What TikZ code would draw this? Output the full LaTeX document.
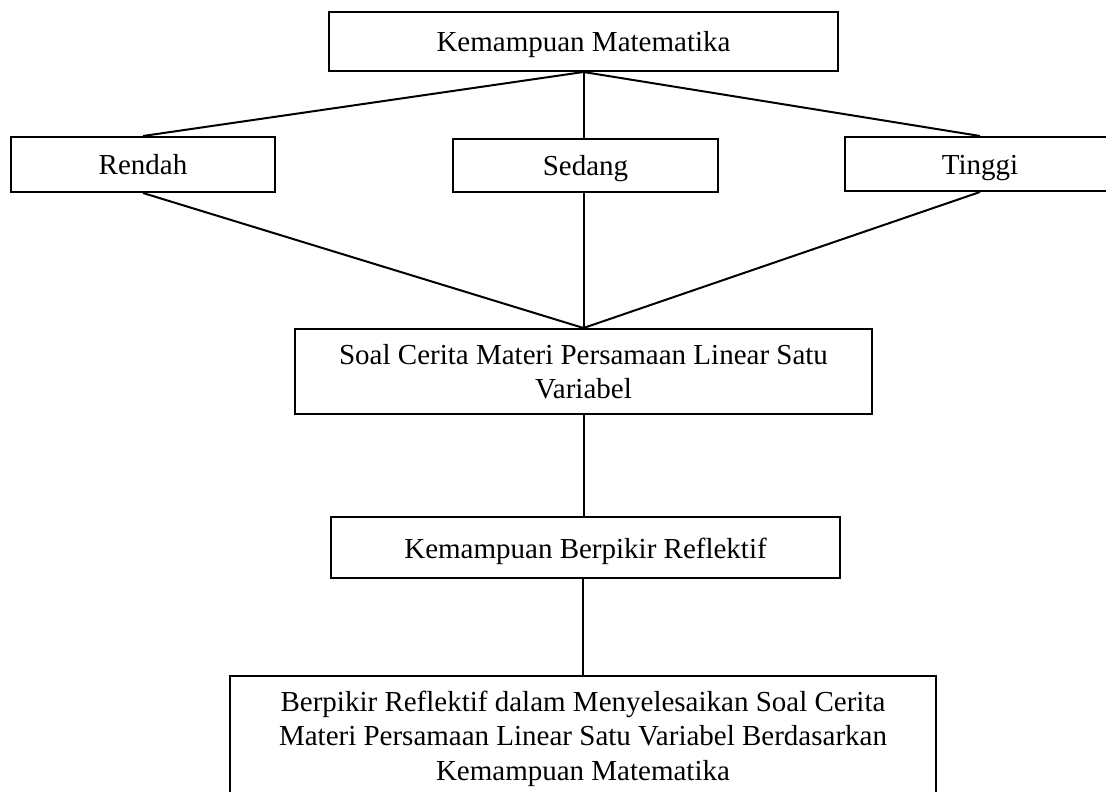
\documentclass[tikz,border=0pt]{standalone}
\usepackage{fontspec}
\setmainfont{Liberation Serif}
\tikzset{kotak/.style={draw, line width=1pt, inner sep=0pt, align=center, font=\fontsize{14.5}{17.2}\selectfont},
  satu/.style={text height=12.5pt, text depth=2pt},
  garis/.style={line width=1pt}}

\begin{document}
\begin{tikzpicture}[x=0.5pt,y=-0.5pt]
                 \useasboundingbox (0,0) rectangle (1106,791);
                 \clip (0,0) rectangle (1106,791);

                 \node[kotak, satu, minimum width=254.5pt, minimum height=29.5pt] (km) at (583.5,41.5) {Kemampuan Matematika};

                 \node[kotak, satu, minimum width=132pt, minimum height=27.5pt] (rendah) at (143,164.5) {Rendah};
                 \node[kotak, satu, minimum width=132.5pt, minimum height=26.5pt] (sedang) at (585.5,165.5) {Sedang};
                 \node[kotak, satu, minimum width=135pt, minimum height=27pt] (tinggi) at (980,164) {Tinggi};

                 \node[kotak, minimum width=288.5pt, minimum height=42.5pt] (soal) at (583.5,371.5) {Soal Cerita Materi Persamaan Linear Satu\\Variabel};
                 \node[kotak, satu, minimum width=254.5pt, minimum height=30.5pt] (kbr) at (585.5,547.5) {Kemampuan Berpikir Reflektif};
                 \node[kotak, minimum width=353pt, minimum height=62.5pt] (hasil) at (583,738.5) {Berpikir Reflektif dalam Menyelesaikan Soal Cerita\\Materi Persamaan Linear Satu Variabel Berdasarkan\\Kemampuan Matematika};

                 \draw[garis](km.south)--(rendah.north);
                 \draw[garis](km.south)--(km.south |- sedang.north);
                 \draw[garis](km.south)--(tinggi.north);

                 \draw[garis](rendah.south)--(soal.north);
                 \draw[garis](sedang.south -| soal.north)--(soal.north);
                 \draw[garis](tinggi.south)--(soal.north);

                 \draw[garis](soal.south)--(soal.south |- kbr.north);
                 \draw[garis](kbr.south -| hasil.north)--(hasil.north);
             \end{tikzpicture}
\end{document}
